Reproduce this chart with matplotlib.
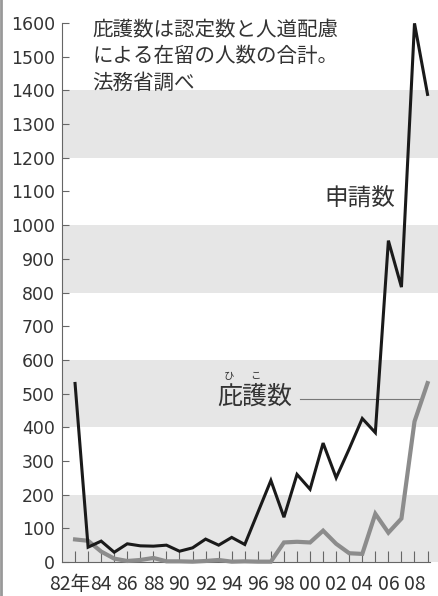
import matplotlib.pyplot as plt
from matplotlib.lines import Line2D
from matplotlib.transforms import ScaledTranslation

# 申請数・庇護数（1982〜2009年）
years = list(range(1982, 2010))
applications = [530, 44, 62, 29, 54, 48, 47, 50, 32, 42, 68, 50, 73, 52,
                147, 242, 133, 260, 216, 353, 250, 336, 426, 384, 954, 816, 1599, 1388]
asylum = [67, 63, 31, 10, 3, 6, 12, 2, 2, 1, 3, 6, 1, 2,
          1, 1, 58, 60, 58, 93, 54, 26, 24, 143, 87, 129, 417, 531]
year_labels = ['82年' if y == 1982 else ('%02d' % (y % 100) if y % 2 == 0 else '') for y in years]
y_ticks = list(range(0, 1700, 100))
bands = [(0, 200), (400, 600), (800, 1000), (1200, 1400)]

cjk = ['Noto Sans CJK JP', 'DejaVu Sans']
plt.rcParams['font.family'] = cjk
txt = '#333333'

fig = plt.figure(figsize=(4.38, 5.96), dpi=100, facecolor='w')
ax = fig.add_axes([62 / 438, 34 / 596, 376 / 438, 539 / 596])

for lo, hi in bands:
    ax.axhspan(lo, hi, color='#e6e6e6', zorder=0, lw=0)

ax.plot(years, asylum, color='#8c8c8c', lw=3.0, solid_joinstyle='miter', zorder=3, clip_on=False)
ax.plot(years, applications, color='#1a1a1a', lw=2.2, solid_joinstyle='miter', zorder=4, clip_on=False)

ax.set_xlim(1981, 2009.8)
ax.set_ylim(0, 1600)
for s in ['top', 'right']:
    ax.spines[s].set_visible(False)
for s in ['left', 'bottom']:
    ax.spines[s].set_color('#666666')
    ax.spines[s].set_linewidth(0.8)
ax.spines['bottom'].set_bounds(1981, 2009.2)

ax.set_yticks(y_ticks)
ax.set_yticklabels([str(v) for v in y_ticks], family=['DejaVu Sans'], fontsize=12.5, color=txt)
ax.set_xticks(years)
ax.set_xticklabels(year_labels, family=['Liberation Sans Narrow', 'Noto Sans CJK JP'], fontsize=14, color=txt)
ax.tick_params(axis='y', direction='in', length=5, width=0.8, color='#666666', pad=5)
ax.tick_params(axis='x', direction='in', length=8, width=0.8, color='#666666', pad=9)
first = ax.get_xticklabels()[0]
first.set_transform(first.get_transform() + ScaledTranslation(-0.055, 0, fig.dpi_scale_trans))

# 注記
ax.text(1983.3, 1612, '庇護数は認定数と人道配慮\nによる在留の人数の合計。\n法務省調べ',
        fontsize=14.8, color=txt, va='top', ha='left', linespacing=1.25)

# 系列名
ax.text(2003.8, 1078, '申請数', fontsize=17, color=txt, ha='center', va='center')
ax.text(1995.8, 490, '庇護数', fontsize=18, color=txt, ha='center', va='center')
ax.text(1993.8, 552, 'ひ', fontsize=7.5, color=txt, ha='center', va='center')
ax.text(1995.8, 552, 'こ', fontsize=7.5, color=txt, ha='center', va='center')
ax.plot([1999.2, 2008.4], [483, 483], color='#777777', lw=0.8, zorder=2)

# 左端の枠線
fig.add_artist(Line2D([0.003, 0.003], [0, 1], transform=fig.transFigure, color='#999999', lw=2))

fig.savefig('out.png', dpi=100)
